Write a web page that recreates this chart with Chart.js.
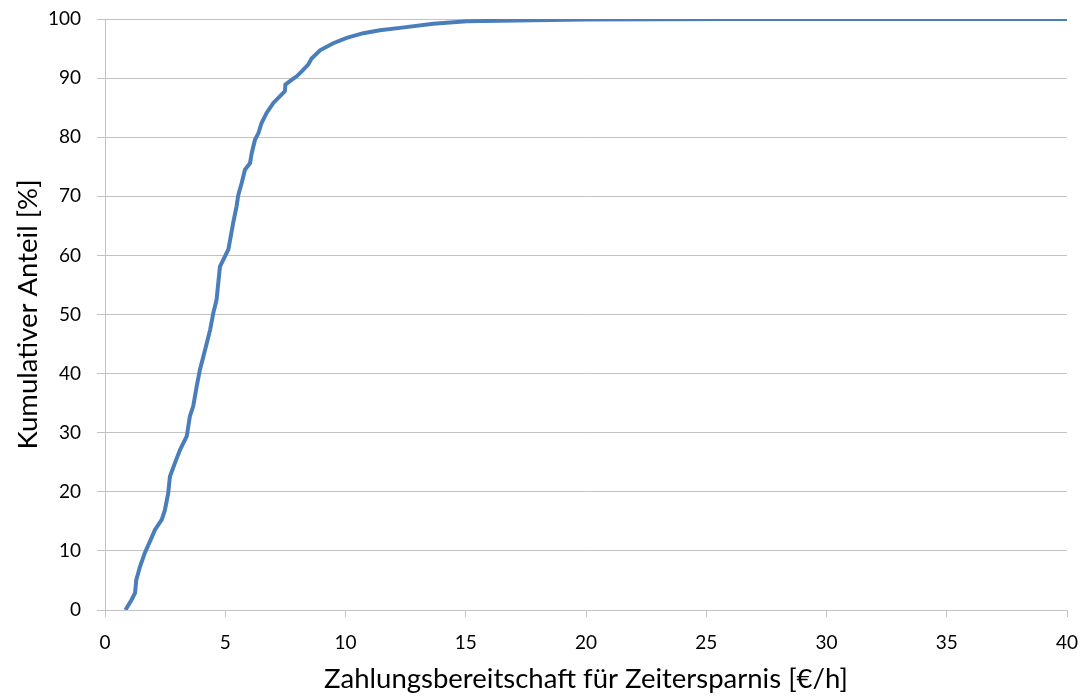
<!DOCTYPE html>
<html>
<head>
<meta charset="utf-8">
<script src="https://cdn.jsdelivr.net/npm/chart.js@4/dist/chart.umd.min.js"></script>
<style>
  html, body { margin: 0; padding: 0; background: #fff; }
  #wrap { width: 1088px; height: 700px; }
</style>
</head>
<body>
<div id="wrap"><canvas id="cdfChart"></canvas></div>
<script>
// Zahlungsbereitschaft [€/h] and cumulative share [%]
const willingness = [0.85, 1.1, 1.25, 1.3, 1.46, 1.66, 1.87, 2.08, 2.36, 2.49, 2.63, 2.7, 2.91, 3.12, 3.4, 3.53,
    3.67, 3.81, 3.95, 4.16, 4.37, 4.5, 4.64, 4.78, 5.13, 5.33, 5.47, 5.54, 5.68, 5.82, 6.03, 6.1, 6.24, 6.38,
    6.51, 6.72, 7.0, 7.34, 7.48, 7.5, 7.69, 7.97, 8.17, 8.45, 8.59, 8.94, 9.49, 10.05, 10.74, 11.43, 12.27,
    13.65, 15.04, 16.4, 17.8, 20, 26, 40];
const cumulativeShare = [0, 1.7, 2.9, 5.1, 7.4, 9.7, 11.6, 13.6, 15.3, 16.9, 19.8, 22.6, 24.9, 27.1, 29.4, 32.8,
    34.5, 37.8, 40.7, 44.0, 47.4, 50.2, 52.5, 58.1, 61.0, 65.5, 68.3, 70.2, 72.2, 74.5, 75.6, 77.3, 79.6, 80.7,
    82.4, 84.1, 85.8, 87.2, 87.8, 88.9, 89.5, 90.3, 91.1, 92.3, 93.3, 94.7, 95.9, 96.8, 97.6, 98.1, 98.5,
    99.2, 99.6, 99.7, 99.8, 99.9, 100, 100];

const xTitle = "Zahlungsbereitschaft für Zeitersparnis [€/h]";
const yTitle = "Kumulativer Anteil [%]";

const points = willingness.map((x, i) => ({ x: x, y: cumulativeShare[i] }));

const fontFamily = "Lato, 'Open Sans', sans-serif";
const gridColor = '#c3c3c3';

const ctx = document.getElementById("cdfChart").getContext("2d");
new Chart(ctx, {
    type: 'line',
    data: {
        datasets: [{
            data: points,
            borderColor: '#4a7ebb',
            borderWidth: 4,
            pointRadius: 0,
            tension: 0,
            fill: false
        }]
    },
    options: {
        responsive: true,
        maintainAspectRatio: false,
        animation: false,
        layout: { padding: { top: 19, right: 21, left: 0, bottom: 0 } },
        plugins: {
            legend: { display: false },
            tooltip: { enabled: false }
        },
        scales: {
            x: {
                type: 'linear',
                min: 0,
                max: 40,
                afterFit: scale => {
                    scale.height = 90;
                    scale.paddingLeft = 0;
                    scale.paddingRight = 0;
                },
                border: { color: gridColor, width: 1 },
                grid: { drawOnChartArea: false, drawTicks: true, tickLength: 7, color: gridColor },
                ticks: { stepSize: 5, color: '#000', padding: 14, font: { family: fontFamily, size: 19 } },
                title: {
                    display: true,
                    text: xTitle,
                    color: '#000',
                    padding: { top: 0, bottom: 4.5 },
                    font: { family: fontFamily, size: 27.5 }
                }
            },
            y: {
                min: 0,
                max: 100,
                afterFit: scale => {
                    scale.width = 105;
                    scale.paddingTop = 0;
                    scale.paddingBottom = 0;
                },
                border: { color: gridColor, width: 1 },
                grid: { drawTicks: true, tickLength: 8, color: gridColor },
                ticks: { stepSize: 10, color: '#000', padding: 16, font: { family: fontFamily, size: 19 } },
                title: {
                    display: true,
                    text: yTitle,
                    color: '#000',
                    padding: { top: 11.5, bottom: 0 },
                    font: { family: fontFamily, size: 27.5 }
                }
            }
        }
    }
});
</script>
</body>
</html>
